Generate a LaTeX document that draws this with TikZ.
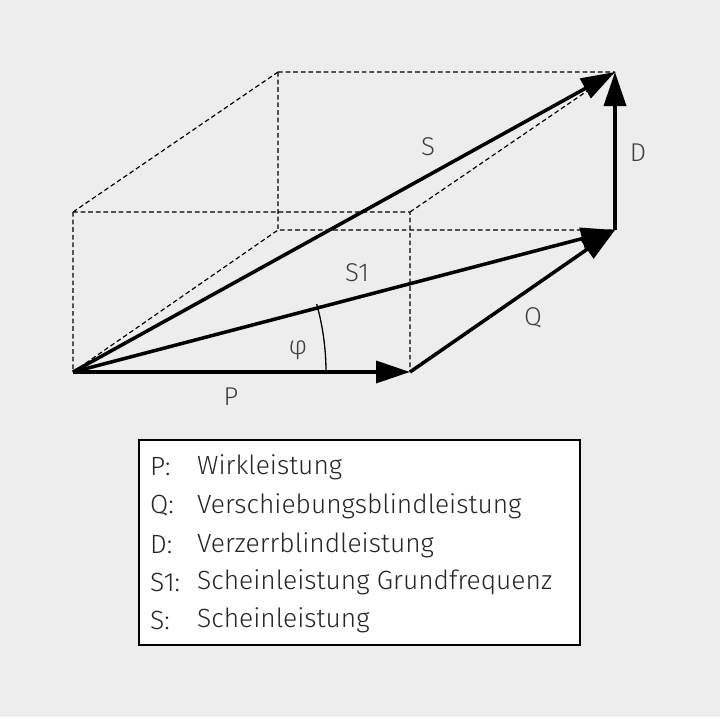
\documentclass[tikz,border=0pt]{standalone}
\usepackage{fontspec}
\setmainfont{Fira Sans Light}
\usetikzlibrary{arrows.meta}
\begin{document}
\begin{tikzpicture}[x=0.03cm,y=-0.03cm,
  dsh/.style={line width=1pt,dash pattern=on 4pt off 2.5pt},
  vec/.style={line width=3pt,-{Triangle[length=34*0.03cm,width=22*0.03cm]}},
  lbl/.style={font=\fontsize{22}{26}\selectfont,text=black!75},
  lg/.style={font=\fontsize{22.5}{26}\selectfont,text=black!85,anchor=west,inner sep=0pt}]
\fill[black!7] (0,0) rectangle (720,717);
\useasboundingbox (0,0) rectangle (720,717);
\coordinate (O) at (73,372);
\coordinate (P) at (410,372);
\coordinate (Q) at (615,230);
\coordinate (D) at (615,72);
\coordinate (A) at (73,212);
\coordinate (B) at (410,212);
\coordinate (C) at (278,72);
\coordinate (E) at (278,230);
\draw[dsh] (A)--(B)--(P) (A)--(O) (C)--(D) (C)--(E)--(Q) (A)--(C) (B)--(D) (O)--(E);
\draw[line width=1.1pt] (O) ++(0:253) arc[start angle=0,end angle=-15.6,radius=253];
\draw[vec] (O)--(P);
\draw[vec] (P)--(Q);
\draw[vec] (Q)--(D);
\draw[vec] (O)--(Q);
\draw[vec] (O)--(D);
\node[lbl] (tS) at (428,147) {S};
\node[lbl] (tD) at (638,153) {D};
\node[lbl] (tS1) at (357,273) {S1};
\node[lbl] (tQ) at (533,318) {Q};
\node[lbl] (tphi) at (298,350) {φ};
\node[lbl] (tP) at (231,397) {P};
\draw[line width=1.3pt,fill=white] (139,440) rectangle (580,645);
\foreach \k/\v/\y [count=\i] in {P:/Wirkleistung/467, Q:/Verschiebungsblindleistung/506, D:/Verzerrblindleistung/545, S1:/Scheinleistung Grundfrequenz/582, S:/Scheinleistung/620}{
  \node[lg] (k\i) at (150,\y) {\k};
  \node[lg] (v\i) at (197,\y) {\v};
}
\end{tikzpicture}
\end{document}
